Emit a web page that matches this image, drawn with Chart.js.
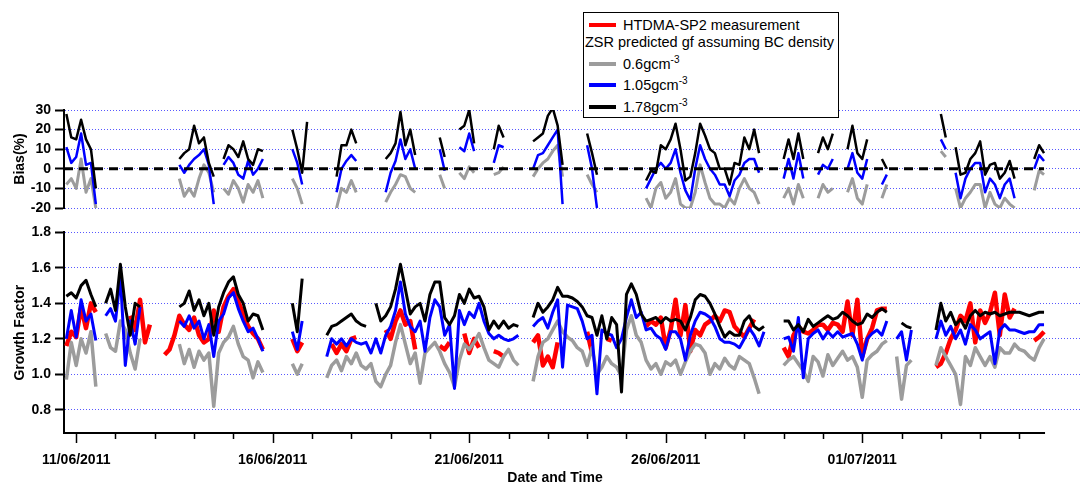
<!DOCTYPE html>
<html>
<head>
<meta charset="utf-8">
<title>Growth factor and bias</title>
<script src="https://cdn.jsdelivr.net/npm/chart.js@4.4.1/dist/chart.umd.min.js"></script>
<style>
  body { margin: 0; background: #fff; }
  #wrap { position: relative; width: 1084px; height: 483px; overflow: hidden;
          font-family: 'Liberation Sans', Arial, sans-serif; color: #000; }
  #biasChart { position: absolute; left: 0; top: 0; }
  #gfChart { position: absolute; left: 0; top: 220px; }
  #legend { position: absolute; left: 583px; top: 12px; width: 256px; height: 106px;
            box-sizing: border-box; border: 1.5px solid #000; background: #fff;
            font-size: 14.5px; z-index: 2; }
  #legend .row { position: absolute; left: 0; height: 16px; line-height: 16px; white-space: nowrap; }
  #legend .swatch { position: absolute; left: 5px; top: 6px; width: 27px; height: 4px; }
  #legend .lbl { position: absolute; left: 39px; top: 0; }
  #legend .sup { position: relative; top: -6px; font-size: 10px; }
  #xTitle { position: absolute; left: 455px; width: 200px; top: 469px; text-align: center;
            font-weight: bold; font-size: 14px; line-height: 16px; }
</style>
</head>
<body>
<div id="wrap">
  <canvas id="biasChart" width="1084" height="225"></canvas>
  <canvas id="gfChart" width="1084" height="263"></canvas>
  <div id="legend">
    <div class="row" style="top:4px"><span class="swatch" style="background:#ff0000"></span><span class="lbl">HTDMA-SP2 measurement</span></div>
    <div class="row" style="top:21px;left:1px">ZSR predicted gf assuming BC density</div>
    <div class="row" style="top:43px"><span class="swatch" style="background:#9c9c9c"></span><span class="lbl">0.6gcm<span class="sup">-3</span></span></div>
    <div class="row" style="top:64px"><span class="swatch" style="background:#0000ff"></span><span class="lbl">1.05gcm<span class="sup">-3</span></span></div>
    <div class="row" style="top:86px"><span class="swatch" style="background:#000"></span><span class="lbl">1.78gcm<span class="sup">-3</span></span></div>
  </div>
  <div id="xTitle">Date and Time</div>
</div>
<script>
const _ = null;

// 3-hourly samples, time in days of June 2011 (10/06 18:00 onwards)
const startDay = 10.75;
const stepDay = 0.125;

// measured growth factor (HTDMA-SP2)
const gfHtdma = [
  1.16,1.24,1.21,1.38,1.26,1.40,1.35,_,_,_,
  _,_,_,1.33,1.25,1.42,1.18,1.28,_,_,
  1.11,1.14,1.22,1.33,1.28,1.25,1.32,1.22,1.18,1.20,
  1.36,1.24,1.38,1.44,1.48,1.41,1.34,1.27,1.23,1.20,
  1.14,_,_,_,_,_,1.20,1.13,1.18,_,
  _,_,_,_,1.17,1.12,1.17,1.13,1.20,1.21,
  _,_,_,_,_,1.25,1.20,1.30,1.36,1.28,
  1.30,1.14,_,_,_,_,1.16,1.14,1.18,_,
  _,1.23,1.12,1.20,1.15,_,_,1.13,1.12,1.10,
  _,_,_,_,_,1.18,1.22,1.05,1.10,1.04,
  1.18,_,_,_,_,_,1.24,1.12,_,_,
  1.20,1.19,_,_,_,_,_,_,1.27,1.30,
  1.28,1.32,1.15,1.25,1.42,1.22,1.39,1.13,1.25,1.22,
  1.28,1.30,1.33,1.30,1.36,1.35,1.27,1.24,1.21,1.26,
  1.31,_,_,_,_,_,1.15,1.10,1.22,1.27,
  1.24,1.23,1.25,1.28,1.28,1.25,1.29,1.28,1.24,1.41,
  1.22,1.42,1.10,1.20,1.26,1.36,1.37,1.37,_,_,
  _,_,_,_,_,_,_,1.04,1.06,1.12,
  1.20,1.25,1.33,1.30,1.40,1.18,1.36,1.29,1.35,1.46,
  1.22,1.45,1.32,1.37,_,_,_,1.19,1.21,1.24
];

// ZSR predicted gf, BC density 0.6 g/cm3
const gf06 = [
  0.97,1.18,1.05,1.20,1.12,1.24,0.93,_,1.23,1.15,
  1.13,1.30,1.25,1.12,1.03,1.20,_,_,_,_,
  _,_,_,1.17,1.06,1.14,1.04,1.13,1.08,1.12,
  0.82,1.12,1.18,1.21,1.27,1.17,1.10,1.08,0.98,1.07,
  1.01,_,_,_,_,_,1.06,1.00,1.06,_,
  _,_,_,0.98,1.05,1.08,1.02,1.10,1.06,1.12,
  1.05,1.03,1.06,0.96,0.93,1.00,1.05,1.18,1.28,1.17,
  1.06,1.12,0.95,1.12,1.15,1.18,1.13,1.06,1.01,0.93,
  1.08,1.17,1.14,1.18,1.23,1.15,1.08,1.06,1.04,1.10,
  1.14,1.08,1.05,_,_,0.96,1.10,1.18,1.20,1.25,
  1.30,1.24,1.21,1.19,1.15,1.13,1.05,1.15,1.00,1.04,
  1.10,1.06,1.04,0.99,1.25,1.33,1.22,1.18,1.08,1.03,
  1.06,1.00,1.07,1.05,1.08,1.00,1.07,1.13,1.17,1.16,
  1.12,1.00,1.06,1.03,1.09,1.05,1.03,1.10,1.08,1.06,
  0.98,0.89,_,_,_,_,1.05,1.08,1.10,1.06,
  1.02,0.96,1.10,1.07,0.99,1.11,1.05,1.09,1.13,1.08,
  1.10,1.04,0.87,1.08,1.11,1.13,1.17,1.19,_,1.10,
  0.86,1.05,1.08,_,_,_,_,1.05,1.15,1.10,
  1.05,1.00,0.83,1.10,1.05,1.15,1.10,1.05,1.10,1.04,
  1.15,1.12,1.12,1.17,1.14,1.13,1.10,1.08,1.15,1.20
];

// ZSR predicted gf, BC density 1.05 g/cm3
const gf105 = [
  1.20,1.36,1.21,1.42,1.30,1.34,1.19,_,1.33,1.37,
  1.30,1.55,1.05,1.30,1.17,1.38,_,_,_,_,
  _,_,_,1.30,1.27,1.33,1.26,1.30,1.20,1.28,
  1.10,1.30,1.34,1.43,1.46,1.37,1.30,1.24,1.26,1.20,
  1.13,_,_,_,_,_,1.24,1.14,1.30,_,
  _,_,_,1.10,1.20,1.17,1.20,1.16,1.20,1.18,
  1.17,1.18,1.12,1.20,1.12,1.22,1.27,1.36,1.52,1.34,
  1.27,1.24,1.30,1.13,1.32,1.42,1.38,1.22,1.28,0.92,
  1.36,1.28,1.35,1.32,1.40,1.30,1.23,1.20,1.22,1.20,
  1.19,1.20,1.22,_,_,1.27,1.30,1.32,1.26,1.35,
  1.42,1.04,1.39,1.38,1.37,1.30,1.20,1.22,0.89,1.25,
  1.23,1.22,1.15,1.20,1.32,1.42,1.32,1.35,1.25,1.26,
  1.22,1.20,1.14,1.24,1.24,1.20,1.08,1.22,1.30,1.35,
  1.34,1.32,1.27,1.20,1.18,1.18,1.17,1.15,1.20,1.26,
  1.22,1.16,1.24,_,_,_,1.20,1.21,1.13,1.32,
  0.98,1.20,1.23,1.25,1.20,1.24,1.21,1.24,1.21,1.22,
  1.23,1.17,1.08,1.20,1.23,1.25,1.22,1.30,_,1.20,
  1.24,1.08,1.25,_,_,_,_,1.20,1.30,1.22,
  1.27,1.20,1.25,1.17,1.28,1.25,1.20,1.22,1.24,1.06,
  1.25,1.28,1.25,1.25,1.24,1.23,1.24,1.24,1.28,1.28
];

// ZSR predicted gf, BC density 1.78 g/cm3
const gf178 = [
  1.44,1.46,1.43,1.50,1.53,1.45,1.38,_,1.40,1.48,
  1.36,1.62,1.38,1.22,1.40,1.38,_,_,_,_,
  _,_,_,1.38,1.40,1.47,1.36,1.42,1.33,1.40,
  1.22,1.38,1.46,1.52,1.55,1.45,1.40,1.30,1.34,1.33,
  1.25,_,_,_,_,_,1.40,1.24,1.54,_,
  _,_,_,1.22,1.27,1.28,1.30,1.32,1.34,1.30,
  1.28,1.27,_,1.40,1.30,1.33,1.38,1.48,1.62,1.48,
  1.34,1.38,1.40,1.30,1.45,1.52,1.52,1.32,1.28,1.33,
  1.45,1.40,1.48,1.43,1.44,1.38,1.25,1.30,1.26,1.30,
  1.26,1.28,1.27,_,_,1.32,1.40,1.35,1.38,1.42,
  1.49,1.44,1.44,1.43,1.41,1.38,1.33,1.32,1.22,1.33,
  1.20,1.32,1.28,0.90,1.45,1.51,1.45,1.34,1.30,1.31,
  1.32,1.29,1.32,1.30,1.31,1.30,1.25,1.32,1.42,1.45,
  1.44,1.40,1.34,1.27,1.21,1.24,1.22,1.22,1.30,1.33,
  1.27,1.25,1.27,_,_,_,1.30,1.30,1.25,1.28,
  1.24,1.31,1.27,1.29,1.31,1.33,1.31,1.32,1.35,1.33,
  1.30,1.28,1.29,1.34,1.32,1.35,1.37,1.35,_,_,
  1.29,1.27,1.26,_,_,_,_,1.25,1.40,1.30,
  1.35,1.28,1.31,1.26,1.33,1.36,1.33,1.35,1.34,1.35,
  1.33,1.34,1.35,1.35,1.35,1.34,1.33,1.34,1.35,1.35
];

// bias of predicted vs measured gf (%)
const bias06 = [
  -8,-5,-10,5,-12,-5,-20,_,_,_,
  _,_,_,_,_,_,_,_,_,_,
  _,_,_,-5,-14,-10,-14,-5,2,-2,
  -12,_,-10,-13,-6,-10,-17,-8,-12,-6,
  -15,_,_,_,_,_,-5,-10,-18,_,
  _,_,_,_,_,-20,-10,-12,-6,-12,
  _,_,_,_,_,-17,-12,-8,-3,-4,
  -10,-12,_,_,_,_,-3,-10,_,_,
  -2,-5,1,-2,_,_,_,-3,-2,1,
  _,_,_,_,_,-4,0,3,5,9,
  12,-4,_,_,_,_,-3,-8,-12,_,
  _,_,_,_,_,_,_,_,-15,-20,
  -10,-7,-15,-12,-5,-18,-20,-20,-12,2,
  -7,-15,-18,-18,-20,-15,-18,-10,-5,-10,
  -12,-18,_,_,_,_,-15,-10,-18,-8,
  -15,_,_,-15,-8,-12,-10,_,_,-12,
  -5,-15,-18,-8,_,_,-15,-8,_,_,
  _,_,_,_,_,_,_,_,9,6,
  _,-10,-20,-15,-12,-8,-8,-20,-12,-18,
  -20,-15,-18,-20,_,_,_,-11,-1,-3
];

const bias105 = [
  11,3,6,18,2,3,-18,_,_,_,
  _,_,_,_,_,_,_,_,_,_,
  _,_,_,2,-2,2,5,7,10,2,
  -18,_,2,6,3,-3,-5,4,-3,0,
  5,_,_,_,_,_,10,3,-8,_,
  _,_,_,_,_,-12,0,4,7,4,
  _,_,_,_,_,-12,-2,4,15,5,
  10,0,_,_,_,_,10,-1,_,_,
  11,9,18,9,_,_,_,3,12,11,
  _,_,_,_,_,0,7,8,12,16,
  20,-18,_,_,_,_,12,0,-20,_,
  _,_,_,_,_,_,_,_,-10,-5,
  0,3,0,3,10,-2,-11,-16,0,12,
  5,0,-3,-8,-8,-14,-6,-3,3,5,
  5,-2,_,_,_,_,-5,5,-5,8,
  -5,_,_,-3,2,0,5,_,_,0,
  8,-2,-5,5,_,_,-8,-3,_,_,
  _,_,_,_,_,_,_,_,15,10,
  _,-2,-15,-5,0,3,3,-12,-5,-8,
  -15,-8,-5,-15,_,_,_,0,7,4
];

const bias178 = [
  28,16,15,25,15,10,-10,_,_,_,
  _,_,_,_,_,_,_,_,_,_,
  _,_,_,5,8,10,22,13,16,3,
  -4,_,5,12,10,6,14,5,2,10,
  9,_,_,_,_,_,20,10,-2,24,
  _,_,_,_,_,-4,12,12,20,13,
  _,_,_,_,_,5,8,13,29,12,
  20,7,_,_,_,_,16,6,_,_,
  20,22,30,13,_,_,_,10,22,16,
  _,_,_,_,_,14,16,18,27,31,
  22,2,_,_,_,_,18,8,-3,_,
  _,_,_,_,_,_,_,_,-6,-1,
  -2,12,10,15,23,10,-6,-4,8,23,
  17,10,8,0,0,-8,3,2,16,10,
  20,8,_,_,_,_,5,15,5,18,
  5,_,_,8,16,10,18,_,_,10,
  22,8,5,15,_,_,5,0,_,_,
  _,_,_,_,_,_,_,_,28,16,
  _,11,-3,-2,5,8,14,-3,2,3,
  -5,-2,4,-5,_,_,_,5,12,8
];

// axis ticks
const biasTicks = [-20, -10, 0, 10, 20, 30];
const gfTicks = [0.8, 1.0, 1.2, 1.4, 1.6, 1.8];
const dayTicks = [11,12,13,14,15,16,17,18,19,20,21,22,23,24,25,26,27,28,29,30,31,32,33,34,35];
const labelDays = [11, 16, 21, 26, 31];
const dateLabels = ['11/06/2011', '16/06/2011', '21/06/2011', '26/06/2011', '01/07/2011'];

const xMin = 10.69, xMax = 36.54;
const times = gf06.map((v, i) => startDay + i * stepDay);
const pts = vals => vals.map((v, i) => ({x: times[i], y: v}));

const FONT = "'Liberation Sans', Arial, sans-serif";
const tickFont = {family: FONT, size: 14, weight: 'bold'};
const titleFont = {family: FONT, size: 14, weight: 'bold'};

function yAxis(min, max, ticks, fmt, title) {
  return {
    min: min, max: max,
    afterFit: s => { s.width = 64; },
    afterBuildTicks: s => { s.ticks = ticks.map(v => ({value: v})); },
    grid: { color: 'rgba(70,70,255,0.9)', lineWidth: 1, tickColor: '#000', tickLength: 9, tickWidth: 2 },
    border: { color: '#000', width: 2, dash: [1, 2] },
    ticks: { autoSkip: false, color: '#000', font: tickFont, padding: 4, callback: fmt },
    title: { display: true, text: title, color: '#000', font: titleFont, padding: {top: 12, bottom: 0} }
  };
}

function line(data, color, width, order) {
  return { data: pts(data), borderColor: color, borderWidth: width, pointRadius: 0,
           tension: 0, spanGaps: false, borderJoinStyle: 'round', order: order };
}

// x axis line and day ticks, drawn only up to the last sample
const timeAxis = {
  id: 'timeAxis',
  afterDraw(chart) {
    const ctx = chart.ctx, area = chart.chartArea, x = chart.scales.x;
    const y0 = area.bottom;
    const xEnd = x.getPixelForValue(times[times.length - 1]) + 1;
    ctx.save();
    ctx.strokeStyle = '#000';
    ctx.lineWidth = 2;
    ctx.beginPath();
    ctx.moveTo(area.left - 1, y0);
    ctx.lineTo(xEnd, y0);
    ctx.stroke();
    ctx.lineWidth = 1.5;
    dayTicks.forEach(d => {
      const px = Math.round(x.getPixelForValue(d)) + 0.5;
      const len = labelDays.includes(d) ? 10 : 6;
      ctx.beginPath();
      ctx.moveTo(px, y0);
      ctx.lineTo(px, y0 + len);
      ctx.stroke();
    });
    ctx.restore();
  }
};

const common = {
  responsive: false,
  animation: false,
  events: [],
  plugins: { legend: { display: false }, tooltip: { enabled: false } }
};

new Chart(document.getElementById('biasChart'), {
  type: 'line',
  data: {
    datasets: [
      { data: [{x: xMin, y: 0}, {x: times[times.length - 1], y: 0}], borderColor: '#000', borderWidth: 3,
        borderDash: [9, 6], pointRadius: 0, order: 0 },
      line(bias178, '#000000', 2.5, 1),
      line(bias105, '#0000ff', 2.5, 2),
      line(bias06, '#9c9c9c', 3, 3)
    ]
  },
  options: Object.assign({}, common, {
    layout: { padding: {top: 110, bottom: 17, left: 0, right: 4} },
    scales: {
      x: { type: 'linear', display: false, min: xMin, max: xMax },
      y: yAxis(-20, 30, biasTicks, v => String(v), 'Bias(%)')
    }
  })
});

new Chart(document.getElementById('gfChart'), {
  type: 'line',
  data: {
    datasets: [
      line(gf178, '#000000', 3, 1),
      line(gf105, '#0000ff', 3, 2),
      line(gf06, '#9c9c9c', 3.5, 3),
      line(gfHtdma, '#ff0000', 4.5, 4)
    ]
  },
  options: Object.assign({}, common, {
    layout: { padding: {top: 11, bottom: 0, left: 0, right: 4} },
    scales: {
      x: {
        type: 'linear', min: xMin, max: xMax,
        afterFit: s => { s.height = 50; },
        afterBuildTicks: s => { s.ticks = dayTicks.map(v => ({value: v})); },
        grid: { display: false, drawTicks: false },
        border: { display: false },
        ticks: {
          autoSkip: false, maxRotation: 0, padding: 19, color: '#000', font: tickFont,
          callback: v => { const k = labelDays.indexOf(v); return k < 0 ? '' : dateLabels[k]; }
        }
      },
      y: yAxis(0.669, 1.8, gfTicks, v => v.toFixed(1), 'Growth Factor')
    }
  }),
  plugins: [timeAxis]
});
</script>
</body>
</html>
